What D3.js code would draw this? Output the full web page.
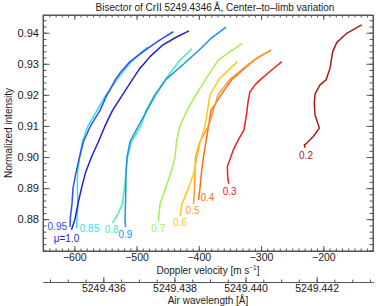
<!DOCTYPE html>
<html>
<head>
<meta charset="utf-8">
<script src="https://cdn.jsdelivr.net/npm/d3@7"></script>
<style>
  body { margin: 0; background: #fff; }
  text { font-family: "Liberation Sans", Arial, sans-serif; fill: #1a1a1a; }
  .axis path, .axis line { stroke: #555; }
</style>
</head>
<body>
<script>
// ---- data ----
var muLabels = ["\u03bc=1.0", "0.95", "0.9", "0.85", "0.8", "0.7", "0.6", "0.5", "0.4", "0.3", "0.2"];

var velocity10 = [-415.7, -435.0, -457.5, -478.4, -488.0, -494.5, -506.5, -522.6, -538.6, -550.7, -561.1, -572.4, -582.0, -588.4, -594.1, -598.9, -604.5];
var intensity10 = [0.9406, 0.9387, 0.9361, 0.9323, 0.9300, 0.9286, 0.9250, 0.9200, 0.9150, 0.9100, 0.9050, 0.9000, 0.8950, 0.8900, 0.8850, 0.8800, 0.8766];

var velocity095 = [-441.0, -462.3, -481.6, -489.2, -510.5, -526.6, -533.8, -542.7, -547.5, -558.7, -574.0, -585.2, -591.6, -597.3, -602.1, -603.7, -606.6, -606.9];
var intensity095 = [0.9403, 0.9377, 0.9350, 0.9339, 0.9307, 0.9270, 0.9250, 0.9216, 0.9200, 0.9150, 0.9100, 0.9050, 0.9000, 0.8950, 0.8900, 0.8850, 0.8800, 0.8775];

var velocity09 = [-356.3, -380.4, -396.5, -423.8, -452.7, -469.6, -483.2, -496.9, -510.5, -515.3, -517.0, -517.3, -517.8, -518.6, -517.8];
var intensity09 = [0.9418, 0.9382, 0.9350, 0.9300, 0.9250, 0.9200, 0.9150, 0.9100, 0.9050, 0.9000, 0.8950, 0.8900, 0.8850, 0.8800, 0.8775];

var velocity085 = [-482.7, -497.7, -510.5, -531.4, -549.1, -563.5, -578.0, -586.8, -591.6, -594.9, -595.2, -594.1, -595.7, -596.1];
var intensity085 = [0.9353, 0.9328, 0.9302, 0.9250, 0.9200, 0.9150, 0.9100, 0.9050, 0.9000, 0.8950, 0.8900, 0.8850, 0.8800, 0.8771];

var velocity08 = [-410.9, -430.2, -453.5, -471.2, -484.8, -492.9, -508.1, -514.5, -517.0, -519.4, -522.6, -529.3, -538.3];
var intensity08 = [0.9348, 0.9312, 0.9250, 0.9200, 0.9150, 0.9100, 0.9050, 0.9000, 0.8950, 0.8900, 0.8850, 0.8819, 0.8787];

var velocity07 = [-329.8, -349.9, -368.7, -389.2, -404.5, -419.0, -430.2, -435.8, -438.2, -444.7, -453.5, -462.3, -465.1];
var intensity07 = [0.9366, 0.9339, 0.9312, 0.9250, 0.9200, 0.9150, 0.9100, 0.9050, 0.9000, 0.8950, 0.8900, 0.8850, 0.8792];

var velocity06 = [-338.2, -367.6, -382.0, -386.0, -390.0, -397.3, -402.9, -407.7, -416.6, -427.0, -430.2];
var intensity06 = [0.9307, 0.9250, 0.9200, 0.9150, 0.9100, 0.9050, 0.9000, 0.8950, 0.8900, 0.8850, 0.8811];

var velocity05 = [-285.6, -307.0, -319.4, -349.9, -369.2, -376.7, -384.4, -398.1, -405.3, -406.1, -406.9, -408.5];
var intensity05 = [0.9342, 0.9318, 0.9300, 0.9250, 0.9200, 0.9150, 0.9100, 0.9050, 0.9000, 0.8950, 0.8900, 0.8849];

var velocity04 = [-284.0, -306.5, -317.8, -346.7, -364.3, -380.4, -384.4, -388.4, -392.5, -395.7, -398.1, -400.5];
var intensity04 = [0.9344, 0.9318, 0.9300, 0.9250, 0.9200, 0.9150, 0.9100, 0.9050, 0.9000, 0.8950, 0.8900, 0.8862];

var velocity03 = [-266.8, -282.9, -298.9, -309.7, -317.8, -320.5, -323.1, -327.4, -336.6, -344.6, -354.2, -353.6, -352.0];
var intensity03 = [0.9307, 0.9280, 0.9253, 0.9232, 0.9210, 0.9184, 0.9141, 0.9087, 0.9055, 0.9023, 0.8969, 0.8937, 0.8914];

var velocity02 = [-138.3, -162.4, -178.5, -184.9, -189.2, -195.6, -205.3, -213.3, -214.5, -213.3, -206.4, -216.1, -226.7, -230.5, -229.4];
var intensity02 = [0.9425, 0.9398, 0.9368, 0.9339, 0.9286, 0.9248, 0.9232, 0.9203, 0.9173, 0.9135, 0.9093, 0.9066, 0.9044, 0.9039, 0.9030];

var velocityTicks = [-600, -500, -400, -300, -200];
var intensityTicks = [0.88, 0.89, 0.90, 0.91, 0.92, 0.93, 0.94];
var wavelengthTicks = [5249.436, 5249.438, 5249.440, 5249.442];

// ---- styles ----
var curveColors = ["#2222cc", "#2c52ee", "#2090f4", "#34dcee", "#44eeb0", "#a6ee52", "#ffc81c", "#ff9a2a", "#ff6a22", "#ee2222", "#aa1a1a"];
// label placement relative to the bottom end of each curve: [dx, dy, anchor]
var labelPlacement = [[-5, 12.5, "middle"], [-3, 3.5, "end"], [0, 11, "middle"], [3, 4, "start"],
                      [-1, 9.5, "middle"], [0, 10.5, "middle"], [0, 10, "middle"], [-1, 10, "middle"],
                      [2, 1.5, "start"], [1, 11, "middle"], [1, 11.5, "middle"]];

function main() {
    var width = 389, height = 306;
    var margin = {left: 43, right: 16, top: 15, bottom: 55};
    var plotW = width - margin.left - margin.right;   // 330
    var plotH = height - margin.top - margin.bottom;  // 236

    var svg = d3.select("body").append("svg")
        .attr("width", width)
        .attr("height", height);

    var g = svg.append("g").attr("transform", "translate(" + margin.left + "," + margin.top + ")");

    var x = d3.scaleLinear().domain([-650.3, -120.2]).range([0, plotW]);
    var y = d3.scaleLinear().domain([0.86977, 0.94569]).range([plotH, 0]);

    // wavelength axis tied to the velocity scale
    var c = 299792458;
    var refWavelength = 5249.44569;
    var xw = d3.scaleLinear()
        .domain(x.domain().map(function (v) { return refWavelength * (1 + v / c); }))
        .range([0, plotW]);

    var velocityMinor = d3.range(-650, -120, 10);
    var intensityMinor = d3.range(435, 473).map(function (k) { return k * 0.002; });
    var wavelengthMinor = d3.range(0, 40).map(function (k) { return 5249.430 + k * 0.0005; })
        .filter(function (w) { return w >= xw.domain()[0] && w <= xw.domain()[1]; });

    // minor ticks
    g.append("g").attr("class", "axis").attr("transform", "translate(0," + plotH + ")")
        .call(d3.axisBottom(x).tickValues(velocityMinor).tickSizeInner(-2.5).tickSizeOuter(0).tickFormat(""));
    g.append("g").attr("class", "axis")
        .call(d3.axisTop(x).tickValues(velocityMinor).tickSizeInner(-2.5).tickSizeOuter(0).tickFormat(""));
    g.append("g").attr("class", "axis")
        .call(d3.axisLeft(y).tickValues(intensityMinor).tickSizeInner(-3.5).tickSizeOuter(0).tickFormat(""));
    g.append("g").attr("class", "axis").attr("transform", "translate(" + plotW + ",0)")
        .call(d3.axisRight(y).tickValues(intensityMinor).tickSizeInner(-3.5).tickSizeOuter(0).tickFormat(""));

    // major ticks with labels
    var fmtV = function (d) { return d3.format("d")(d).replace("-", "\u2212"); };
    g.append("g").attr("class", "axis").attr("transform", "translate(0," + plotH + ")")
        .call(d3.axisBottom(x).tickValues(velocityTicks).tickSizeInner(-5).tickSizeOuter(0).tickPadding(3).tickFormat(fmtV))
        .call(function (a) { a.selectAll("text").attr("font-size", 10.5).attr("fill", "#1a1a1a"); });
    g.append("g").attr("class", "axis")
        .call(d3.axisTop(x).tickValues(velocityTicks).tickSizeInner(-5).tickSizeOuter(0).tickFormat(""));
    g.append("g").attr("class", "axis")
        .call(d3.axisLeft(y).tickValues(intensityTicks).tickSizeInner(-6.5).tickSizeOuter(0).tickPadding(4).tickFormat(d3.format(".2f")))
        .call(function (a) { a.selectAll("text").attr("font-size", 11).attr("fill", "#1a1a1a"); });
    g.append("g").attr("class", "axis").attr("transform", "translate(" + plotW + ",0)")
        .call(d3.axisRight(y).tickValues(intensityTicks).tickSizeInner(-6.5).tickSizeOuter(0).tickFormat(""));

    // second (wavelength) axis
    var wy = plotH + 31;
    g.append("g").attr("class", "axis").attr("transform", "translate(0," + wy + ")")
        .call(d3.axisBottom(xw).tickValues(wavelengthMinor).tickSizeInner(-2.5).tickSizeOuter(0).tickFormat(""));
    g.append("g").attr("class", "axis").attr("transform", "translate(0," + wy + ")")
        .call(d3.axisBottom(xw).tickValues(wavelengthTicks).tickSizeInner(-5).tickSizeOuter(0).tickPadding(3).tickFormat(d3.format(".3f")))
        .call(function (a) { a.selectAll("text").attr("font-size", 10.5).attr("fill", "#1a1a1a"); });

    // frame lines
    g.append("rect").attr("width", plotW).attr("height", plotH)
        .attr("fill", "none").attr("stroke", "#555");

    // bisector curves
    var velocities = [velocity10, velocity095, velocity09, velocity085, velocity08, velocity07, velocity06, velocity05, velocity04, velocity03, velocity02];
    var intensities = [intensity10, intensity095, intensity09, intensity085, intensity08, intensity07, intensity06, intensity05, intensity04, intensity03, intensity02];

    var line = d3.line()
        .x(function (d) { return x(d[0]); })
        .y(function (d) { return y(d[1]); });

    // draw from limb to centre so the centre curves sit on top
    for (var i = velocities.length - 1; i >= 0; i--) {
        var pts = velocities[i].map(function (v, k) { return [v, intensities[i][k]]; });
        g.append("path")
            .datum(pts)
            .attr("d", line)
            .attr("fill", "none")
            .attr("stroke", curveColors[i])
            .attr("stroke-width", 1.5)
            .attr("stroke-linejoin", "round");

        var end = pts[pts.length - 1];
        var pl = labelPlacement[i];
        g.append("text")
            .attr("x", x(end[0]) + pl[0])
            .attr("y", y(end[1]) + pl[1])
            .attr("text-anchor", pl[2])
            .attr("font-size", 10)
            .style("fill", curveColors[i])
            .text(muLabels[i]);
    }

    // titles
    svg.append("text")
        .attr("x", 215)
        .attr("y", 10.5)
        .attr("text-anchor", "middle")
        .attr("font-size", 10)
        .text("Bisector of CrII 5249.4346\u2009\u00c5, Center\u2013to\u2013limb variation");

    var xl = svg.append("text")
        .attr("x", margin.left + plotW / 2)
        .attr("y", margin.top + plotH + 23)
        .attr("text-anchor", "middle")
        .attr("font-size", 10);
    xl.append("tspan").text("Doppler velocity [m s");
    xl.append("tspan").attr("font-size", 6.5).attr("dy", -4).text("\u22121");
    xl.append("tspan").attr("dy", 4).text("]");

    svg.append("text")
        .attr("x", margin.left + plotW / 2)
        .attr("y", height - 2)
        .attr("text-anchor", "middle")
        .attr("font-size", 10)
        .text("Air wavelength [\u00c5]");

    svg.append("text")
        .attr("transform", "translate(12," + (margin.top + plotH / 2) + ") rotate(-90)")
        .attr("text-anchor", "middle")
        .attr("font-size", 10)
        .text("Normalized intensity");
}

window.onload = main();
</script>
</body>
</html>
